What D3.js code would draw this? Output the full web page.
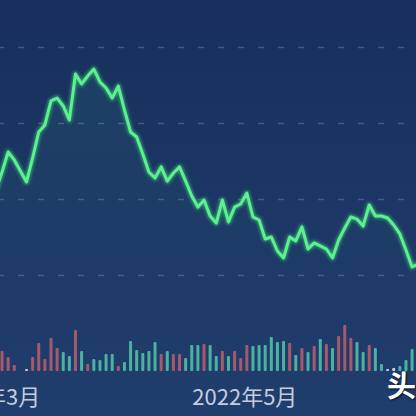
<!DOCTYPE html>
<html>
<head>
<meta charset="utf-8">
<script src="https://cdn.jsdelivr.net/npm/d3@7"></script>
<style>
html, body { margin: 0; padding: 0; background: #1a3260; overflow: hidden; }
</style>
</head>
<body>
<div id="chart"></div>
<script>
// trading days shown (Mar 1 sits just off the left edge)
var dates = [
  "2022-03-01","2022-03-02","2022-03-03","2022-03-04","2022-03-07","2022-03-08","2022-03-09","2022-03-10","2022-03-11",
  "2022-03-14","2022-03-15","2022-03-16","2022-03-17","2022-03-18","2022-03-21","2022-03-22","2022-03-23","2022-03-24",
  "2022-03-25","2022-03-28","2022-03-29","2022-03-30","2022-03-31",
  "2022-04-01","2022-04-06","2022-04-07","2022-04-08","2022-04-11","2022-04-12","2022-04-13","2022-04-14","2022-04-15",
  "2022-04-18","2022-04-19","2022-04-20","2022-04-21","2022-04-22","2022-04-25","2022-04-26","2022-04-27","2022-04-28","2022-04-29",
  "2022-05-05","2022-05-06","2022-05-09","2022-05-10","2022-05-11","2022-05-12","2022-05-13","2022-05-16","2022-05-17",
  "2022-05-18","2022-05-19","2022-05-20","2022-05-23","2022-05-24","2022-05-25","2022-05-26","2022-05-27","2022-05-30","2022-05-31",
  "2022-06-01","2022-06-02","2022-06-06","2022-06-07","2022-06-08","2022-06-09","2022-06-10","2022-06-13","2022-06-14","2022-06-15"
];

var closes = [
  30.10, 30.59, 31.78, 33.09, 32.57, 31.84, 31.12, 32.70, 34.41, 34.87,
  36.45, 36.64, 36.12, 35.20, 38.22, 37.57, 38.09, 38.55, 37.70, 37.30,
  36.64, 37.43, 35.86, 34.41, 34.08, 32.96, 31.78, 31.38, 32.11, 31.18,
  31.71, 32.11, 31.18, 30.20, 29.47, 29.93, 28.88, 28.42, 29.93, 28.49,
  29.47, 29.67, 30.39, 28.82, 28.62, 27.37, 27.50, 26.58, 26.12, 27.50,
  27.24, 28.16, 26.71, 27.11, 26.91, 26.71, 26.12, 27.30, 28.09, 28.82,
  28.68, 28.22, 29.61, 28.88, 28.88, 28.75, 28.29, 27.70, 26.64, 25.53,
  25.72
];

var volumes = [
  22, 24, 20, 14, 6, 0, 2, 14, 28, 12,
  33, 23, 19, 15, 41, 20, 7, 12, 11, 17,
  17, 5, 9, 30, 21, 18, 20, 29, 17, 20,
  17, 17, 13, 26, 26, 27, 26, 15, 20, 15,
  20, 13, 26, 25, 26, 26, 34, 29, 30, 28,
  16, 23, 19, 25, 32, 27, 23, 35, 46, 33,
  29, 19, 26, 23, 7, 2, 3, 5, 11, 22,
  18
];

// 1 = up (red), -1 = down (green), 0 = flat
var moves = [
  -1, 1, 1, 1, 1, 0, 0, 1, 1, 1,
  1, 1, -1, -1, 1, -1, 1, -1, -1, -1,
  -1, 1, -1, -1, -1, -1, -1, -1, 1, -1,
  1, 1, -1, -1, -1, 1, -1, -1, 1, -1,
  1, 1, 1, -1, -1, -1, -1, -1, -1, 1,
  -1, 1, -1, 1, -1, 1, -1, 1, 1, 1,
  -1, -1, 1, -1, -1, 0, 0, -1, -1, -1,
  -1
];

var tickMonths = ["2022-03", "2022-05"];
var tickLabels = ["2022年3月", "2022年5月"];
var gridValues = [25, 30, 35, 40];

var width = 416, height = 416;

var svg = d3.select("#chart")
  .append("svg")
  .attr("width", width)
  .attr("height", height);

var defs = svg.append("defs");

var bg = defs.append("linearGradient")
  .attr("id", "bg").attr("x1", 0).attr("y1", 0).attr("x2", 0).attr("y2", 1);
bg.append("stop").attr("offset", "0%").attr("stop-color", "#182f5d");
bg.append("stop").attr("offset", "100%").attr("stop-color", "#203e6d");

var under = defs.append("linearGradient")
  .attr("id", "under").attr("gradientUnits", "userSpaceOnUse")
  .attr("x1", 0).attr("y1", 60).attr("x2", 0).attr("y2", 300);
under.append("stop").attr("offset", "0%").attr("stop-color", "#3fb08a").attr("stop-opacity", 0.12);
under.append("stop").attr("offset", "100%").attr("stop-color", "#3fb08a").attr("stop-opacity", 0);

var glow = defs.append("filter").attr("id", "glow")
  .attr("x", "-10%").attr("y", "-10%").attr("width", "120%").attr("height", "120%");
glow.append("feGaussianBlur").attr("stdDeviation", 1.6);

svg.append("rect")
  .attr("width", width).attr("height", height)
  .attr("fill", "url(#bg)");

var x = d3.scaleLinear()
  .domain([0, dates.length - 1])
  .range([-10.2, 418.2]);

var y = d3.scaleLinear()
  .domain([25, 40])
  .range([275, 47]);

var yVol = d3.scaleLinear()
  .domain([0, 50])
  .range([371, 321]);

// dashed grid
svg.append("g")
  .attr("class", "grid")
  .call(d3.axisLeft(y).tickValues(gridValues).tickSize(-width).tickFormat(""))
  .call(function(g) {
    g.select(".domain").remove();
    g.selectAll("line")
      .attr("stroke", "#8fa3c4")
      .attr("stroke-opacity", 0.35)
      .attr("stroke-width", 1.5)
      .attr("stroke-dasharray", "6,14")
      .attr("stroke-dashoffset", 2);
  });

// area under line
var area = d3.area()
  .x(function(d, i) { return x(i); })
  .y0(300)
  .y1(function(d) { return y(d); });

svg.append("path")
  .datum(closes)
  .attr("d", area)
  .attr("fill", "url(#under)");

// volume bars
var colorFor = function(m) {
  return m > 0 ? "#a55a6c" : (m < 0 ? "#4bb2a2" : "#c9d3e4");
};

svg.append("g")
  .selectAll("rect")
  .data(volumes)
  .enter().append("rect")
  .attr("x", function(d, i) { return x(i) - 1.5; })
  .attr("y", function(d) { return yVol(d); })
  .attr("width", 3)
  .attr("height", function(d) { return yVol(0) - yVol(d); })
  .attr("rx", 1)
  .attr("fill", function(d, i) { return colorFor(moves[i]); });

// price line
var line = d3.line()
  .x(function(d, i) { return x(i); })
  .y(function(d) { return y(d); });

svg.append("path")
  .datum(closes)
  .attr("d", line)
  .attr("fill", "none")
  .attr("stroke", "#3ee27a")
  .attr("stroke-width", 5.5)
  .attr("stroke-opacity", 0.55)
  .attr("stroke-linejoin", "round")
  .attr("filter", "url(#glow)");

svg.append("path")
  .datum(closes)
  .attr("d", line)
  .attr("fill", "none")
  .attr("stroke", "#5cf08e")
  .attr("stroke-width", 3)
  .attr("stroke-linejoin", "round");

// month labels
var tickIdx = tickMonths.map(function(m) {
  return dates.findIndex(function(d) { return d.slice(0, 7) == m; });
});

svg.append("g")
  .selectAll("text")
  .data(tickIdx)
  .enter().append("text")
  .attr("x", function(d) { return x(d) - 2; })
  .attr("y", 405)
  .attr("text-anchor", "middle")
  .attr("font-family", "'Noto Sans CJK SC', 'Noto Sans', sans-serif")
  .attr("font-size", 22)
  .attr("fill", "#c4cde0")
  .text(function(d, i) { return tickLabels[i]; });

// watermark
svg.append("text")
  .attr("x", 387)
  .attr("y", 397)
  .attr("font-family", "'Noto Sans CJK SC', sans-serif")
  .attr("font-size", 29)
  .attr("font-weight", "bold")
  .attr("fill", "#ffffff")
  .style("text-shadow", "1px 1px 2px rgba(0,0,0,0.8)")
  .text("头条");
</script>
</body>
</html>
